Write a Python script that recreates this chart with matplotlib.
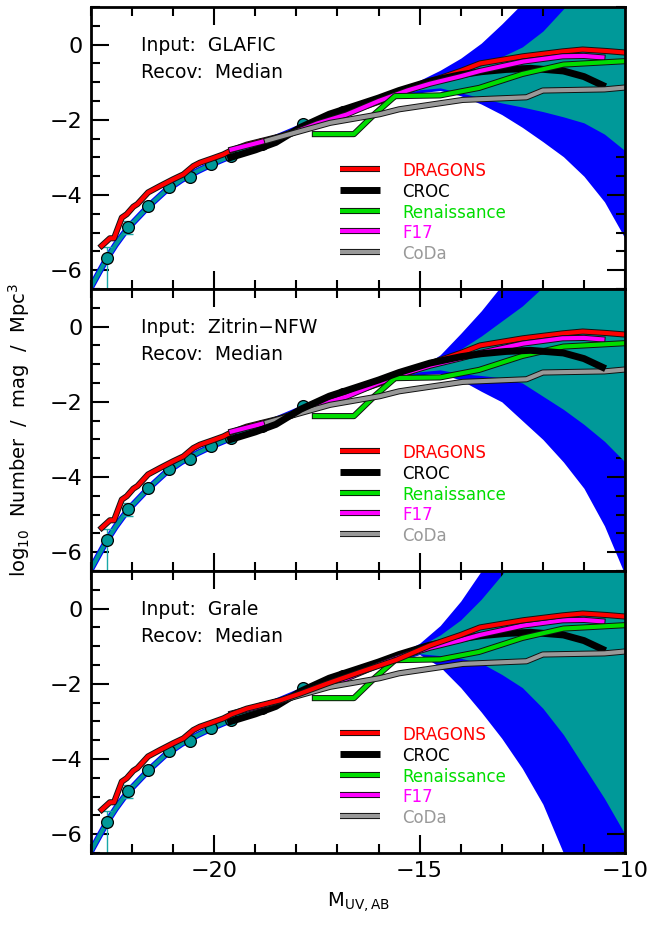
import numpy as np
import matplotlib
matplotlib.use("Agg")
import matplotlib.pyplot as plt
import matplotlib.patheffects as pe
from matplotlib.ticker import MultipleLocator

# ---------------- data ----------------
# input / recovered luminosity function (bright part, bands are thin here)
LF_MAG = [-23.3, -23.0, -22.8, -22.6, -22.4, -22.2, -22.0, -21.6, -21.2, -20.8,
          -20.4, -20.0, -19.5, -19.0, -18.5, -18.0, -17.5, -17.0, -16.5, -16.0, -15.5]
LF_LOGPHI = [-7.10, -6.45, -6.05, -5.66, -5.32, -5.02, -4.76, -4.30, -3.90, -3.60,
             -3.36, -3.15, -2.92, -2.70, -2.48, -2.25, -2.03, -1.83, -1.63, -1.45, -1.28]

# faint-end bands (blue = input range, teal = recovered range)
FAINT_MAG = [-16.5, -16.0, -15.5, -15.0, -14.5, -14.0, -13.5, -13.0, -12.5, -12.0,
             -11.5, -11.0, -10.5, -10.0]

GLAFIC_BLUE_HI = [-1.55, -1.37, -1.18, -0.95, -0.68, -0.36, 0.04, 0.55, 1.10, 1.70, 2.40, 3.10, 3.80, 4.50]
GLAFIC_BLUE_LO = [-1.72, -1.55, -1.40, -1.28, -1.22, -1.36, -1.58, -1.86, -2.20, -2.58, -2.98, -3.50, -4.18, -5.15]
GLAFIC_TEAL_HI = [-1.58, -1.40, -1.23, -1.05, -0.88, -0.72, -0.56, -0.32, -0.06, 0.36, 0.95, 1.60, 2.30, 3.00]
GLAFIC_TEAL_LO = [-1.68, -1.50, -1.34, -1.20, -1.15, -1.28, -1.42, -1.55, -1.66, -1.78, -1.92, -2.08, -2.38, -2.82]

ZITRIN_BLUE_HI = [-1.55, -1.37, -1.25, -1.10, -0.75, -0.18, 0.42, 1.10, 1.80, 2.50, 3.20, 3.90, 4.60, 5.30]
ZITRIN_BLUE_LO = [-1.72, -1.55, -1.40, -1.28, -1.25, -1.42, -1.72, -2.00, -2.50, -3.00, -3.60, -4.30, -5.30, -6.60]
ZITRIN_TEAL_HI = [-1.58, -1.40, -1.23, -1.08, -0.90, -0.60, -0.25, 0.15, 0.55, 1.05, 1.70, 2.40, 3.10, 3.80]
ZITRIN_TEAL_LO = [-1.68, -1.50, -1.34, -1.20, -1.15, -1.25, -1.30, -1.36, -1.50, -1.85, -2.20, -2.60, -3.05, -3.60]

GRALE_BLUE_HI = [-1.55, -1.37, -1.20, -0.92, -0.45, 0.20, 1.00, 1.90, 2.80, 3.70, 4.60, 5.50, 6.40, 7.30]
GRALE_BLUE_LO = [-1.72, -1.55, -1.40, -1.22, -1.55, -2.10, -2.75, -3.45, -4.25, -5.20, -6.50, -7.90, -9.30, -10.70]
GRALE_TEAL_HI = [-1.58, -1.40, -1.23, -1.00, -0.70, -0.30, 0.25, 0.90, 1.60, 2.30, 3.00, 3.70, 4.40, 5.10]
GRALE_TEAL_LO = [-1.68, -1.50, -1.34, -1.20, -1.25, -1.32, -1.45, -1.75, -2.10, -2.65, -3.35, -4.20, -5.05, -6.00]

# recovered binned points
PT_MAG = [-22.62, -22.11, -21.61, -21.10, -20.59, -20.09, -19.58, -18.84, -17.84, -16.86]
PT_LOGPHI = [-5.68, -4.85, -4.29, -3.78, -3.51, -3.18, -2.96, -2.63, -2.10, -1.80]
PT_ERR_LO = [1.00, 0.19, 0.08, 0.06, 0.05, 0.05, 0.05, 0.05, 0.05, 0.05]
PT_ERR_HI = [0.30, 0.15, 0.08, 0.06, 0.05, 0.05, 0.05, 0.05, 0.05, 0.05]

# simulations
DRAGONS_MAG = [-22.74, -22.54, -22.44, -22.25, -22.13, -21.97, -21.87, -21.61, -21.32, -21.00,
               -20.75, -20.51, -20.35, -20.06, -19.78, -19.58, -19.21, -18.73, -18.40, -17.91,
               -17.27, -16.46, -15.56, -14.75, -14.00, -13.53, -12.48, -11.52, -11.03, -10.45, -10.00]
DRAGONS_LOGPHI = [-5.35, -5.15, -5.15, -4.60, -4.51, -4.31, -4.24, -3.93, -3.76, -3.58,
                  -3.45, -3.23, -3.14, -3.03, -2.92, -2.81, -2.66, -2.53, -2.44, -2.26,
                  -2.00, -1.69, -1.36, -0.98, -0.70, -0.50, -0.31, -0.18, -0.13, -0.17, -0.21]
CROC_MAG = [-19.60, -19.00, -18.50, -17.90, -17.20, -16.50, -16.00, -15.50, -14.75, -14.00,
            -13.50, -12.90, -12.30, -11.50, -11.00, -10.55]
CROC_LOGPHI = [-3.00, -2.80, -2.60, -2.20, -1.85, -1.60, -1.42, -1.22, -0.97, -0.80,
               -0.72, -0.66, -0.63, -0.70, -0.85, -1.08]
REN_MAG = [-17.55, -16.60, -16.10, -15.60, -14.50, -13.55, -12.50, -11.50, -10.00]
REN_LOGPHI = [-2.38, -2.38, -1.85, -1.37, -1.35, -1.15, -0.78, -0.53, -0.44]
F17_MAG = [-19.58, -18.90, -18.16, -17.50, -16.78, -16.00, -15.30, -14.75, -14.00, -13.53,
           -12.48, -11.52, -11.00, -10.55]
F17_LOGPHI = [-2.79, -2.60, -2.38, -2.10, -1.86, -1.50, -1.22, -1.04, -0.84, -0.70,
              -0.45, -0.31, -0.30, -0.34]
CODA_MAG = [-18.72, -17.18, -15.97, -15.50, -13.95, -12.40, -12.00, -10.50, -10.00]
CODA_LOGPHI = [-2.55, -2.08, -1.85, -1.72, -1.47, -1.40, -1.22, -1.19, -1.14]

PANEL_MODELS = ["GLAFIC", "Zitrin\u2212NFW", "Grale"]
SIM_NAMES = ["DRAGONS", "CROC", "Renaissance", "F17", "CoDa"]

X_TICKS = [-20, -15, -10]
Y_TICKS = [-6, -4, -2, 0]

# ---------------- style ----------------
BLUE = "#0000ff"
TEAL = "#009999"
ERRC = "#19a8a8"
SIM_COLORS = {"DRAGONS": "#ff0000", "CROC": "#000000", "Renaissance": "#00dd00",
              "F17": "#ff00ff", "CoDa": "#999999"}
SIM_DATA = {"DRAGONS": (DRAGONS_MAG, DRAGONS_LOGPHI), "CROC": (CROC_MAG, CROC_LOGPHI),
            "Renaissance": (REN_MAG, REN_LOGPHI), "F17": (F17_MAG, F17_LOGPHI),
            "CoDa": (CODA_MAG, CODA_LOGPHI)}
PANEL_BANDS = [
    (GLAFIC_BLUE_LO, GLAFIC_BLUE_HI, GLAFIC_TEAL_LO, GLAFIC_TEAL_HI),
    (ZITRIN_BLUE_LO, ZITRIN_BLUE_HI, ZITRIN_TEAL_LO, ZITRIN_TEAL_HI),
    (GRALE_BLUE_LO, GRALE_BLUE_HI, GRALE_TEAL_LO, GRALE_TEAL_HI),
]
DRAW_ORDER = [
    ["DRAGONS", "CROC", "F17", "Renaissance", "CoDa"],
    ["DRAGONS", "F17", "Renaissance", "CoDa", "CROC"],
    ["CROC", "F17", "Renaissance", "CoDa", "DRAGONS"],
]

plt.rcParams["font.family"] = ["DejaVu Sans"]
plt.rcParams["axes.unicode_minus"] = True

fig = plt.figure(figsize=(6.51, 9.27), dpi=100)
left, width = 0.1398, 0.8203
h = 0.3042
bottoms = [0.0798 + 2 * h, 0.0798 + h, 0.0798]

def sim_style(name):
    if name == "CROC":
        return dict(lw=5.0, color="black", path_effects=None)
    return dict(lw=3.0, color=SIM_COLORS[name],
                path_effects=[pe.Stroke(linewidth=4.4, foreground="#111111"), pe.Normal()])

for i, (b, model) in enumerate(zip(bottoms, PANEL_MODELS)):
    ax = fig.add_axes([left, b, width, h])
    blo, bhi, tlo, thi = PANEL_BANDS[i]
    ax.fill_between(FAINT_MAG, blo, bhi, color=BLUE, lw=0, zorder=1)
    ax.plot(LF_MAG, LF_LOGPHI, color=BLUE, lw=4.6, solid_capstyle="butt", zorder=2)
    ax.fill_between(FAINT_MAG, tlo, thi, color=TEAL, lw=0, zorder=3)
    ax.plot(LF_MAG, LF_LOGPHI, color=TEAL, lw=3.0, solid_capstyle="butt", zorder=4)
    ax.errorbar(PT_MAG, PT_LOGPHI, yerr=[PT_ERR_LO, PT_ERR_HI], fmt="none",
                ecolor=ERRC, elinewidth=1.0, capsize=3.5, capthick=1.0, zorder=5)
    ax.plot(PT_MAG, PT_LOGPHI, "o", ms=8.5, mfc=TEAL, mec="black", mew=0.9, zorder=6)

    for k, name in enumerate(DRAW_ORDER[i]):
        mx, my = SIM_DATA[name]
        st = sim_style(name)
        ax.plot(mx, my, color=st["color"], lw=st["lw"], path_effects=st["path_effects"],
                solid_joinstyle="round", zorder=10 + k)

    # legend
    rows = [0.4255, 0.352, 0.278, 0.206, 0.133]
    for name, yy in zip(SIM_NAMES, rows):
        st = sim_style(name)
        ax.plot([0.466, 0.541], [yy, yy], transform=ax.transAxes, color=st["color"],
                lw=st["lw"], path_effects=st["path_effects"], solid_capstyle="butt",
                zorder=30, clip_on=False)
        ax.text(0.583, yy, name, transform=ax.transAxes, color=SIM_COLORS[name],
                fontsize=12, va="center_baseline", ha="left", zorder=31)

    ax.text(0.094, 0.844, "Input:  " + model, transform=ax.transAxes, fontsize=13.5,
            va="baseline", ha="left")
    ax.text(0.094, 0.748, "Recov:  Median", transform=ax.transAxes, fontsize=13.5,
            va="baseline", ha="left")

    ax.set_xlim(-23, -10)
    ax.set_ylim(-6.5, 1.0)
    ax.set_xticks(X_TICKS)
    ax.set_yticks(Y_TICKS)
    ax.xaxis.set_minor_locator(MultipleLocator(1))
    ax.yaxis.set_minor_locator(MultipleLocator(0.5))
    ax.tick_params(which="both", direction="in", top=True, right=True, width=1.5)
    ax.tick_params(which="major", length=13, labelsize=16, pad=6)
    ax.tick_params(which="minor", length=6.5)
    for s in ax.spines.values():
        s.set_linewidth(2.0)
        s.set_zorder(40)
    if i < 2:
        ax.tick_params(labelbottom=False)

fig.text(0.55, 0.022, r"M$_{\rm UV,AB}$", fontsize=14, ha="center", va="baseline")
fig.text(0.03, 0.536, r"log$_{10}$  Number  /  mag  /  Mpc$^3$", fontsize=14,
         rotation=90, ha="center", va="center")

fig.savefig("out.png", dpi=100)
